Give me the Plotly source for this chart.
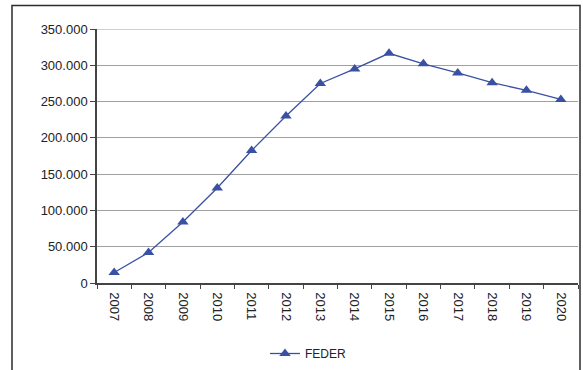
import plotly.graph_objects as go

# FEDER series by year
years = ["2007", "2008", "2009", "2010", "2011", "2012", "2013",
         "2014", "2015", "2016", "2017", "2018", "2019", "2020"]
feder = [14500, 42000, 84000, 131000, 182500, 230000, 275000,
         295000, 316500, 302000, 289500, 276000, 265500, 253000]

y_ticks = [0, 50000, 100000, 150000, 200000, 250000, 300000, 350000]
y_tick_text = ["0", "50.000", "100.000", "150.000", "200.000",
               "250.000", "300.000", "350.000"]

W, H = 583, 370
ML, MR, MT, MB = 97, 5, 29, 87
pw, ph = W - ML - MR, H - MT - MB

fig = go.Figure()
fig.add_trace(go.Scatter(
    x=years, y=feder, mode="lines+markers", name="FEDER",
    line=dict(color="#3A51A3", width=1.3),
    marker=dict(symbol="triangle-up", size=10, color="#3A51A3"),
))

# gridline at the top of the value range
fig.add_shape(type="line", xref="paper", yref="y", x0=0, x1=1,
              y0=y_ticks[-1], y1=y_ticks[-1],
              line=dict(color="#a0a0a0", width=1), layer="below")

# outer chart frame (pixel positions converted to paper units)
fig.add_shape(type="rect", xref="paper", yref="paper",
              x0=(12 - ML) / pw, x1=(580 - ML) / pw,
              y0=(H - MB - 400) / ph, y1=(H - MB - 5.5) / ph,
              line=dict(color="#2b2b2b", width=1.5), layer="above")

fig.update_layout(
    width=W, height=H,
    margin=dict(l=ML, r=MR, t=MT, b=MB, autoexpand=False),
    paper_bgcolor="white", plot_bgcolor="white",
    font=dict(family="Liberation Sans, Arial, sans-serif", size=13, color="#222"),
    showlegend=True,
    legend=dict(orientation="h", x=(265 - ML) / pw, xanchor="left",
                y=-(339 - (H - MB)) / ph, yanchor="top",
                font=dict(size=12), itemwidth=30),
    xaxis=dict(type="category", range=[-0.5, 13.5], tickangle=90,
               showline=True, linecolor="#444", linewidth=1.5,
               ticks="outside", ticklen=4, tickcolor="#444",
               tickson="boundaries", showgrid=False, automargin=False,
               ticklabelstandoff=5, tickfont=dict(size=13)),
    yaxis=dict(range=[0, 350000], tickvals=y_ticks, ticktext=y_tick_text,
               showline=True, linecolor="#444", linewidth=1.5,
               ticks="outside", ticklen=5, tickcolor="#444",
               showgrid=True, gridcolor="#a0a0a0", gridwidth=1,
               zeroline=False, automargin=False, tickfont=dict(size=13)),
)

fig.write_html("out.html")
